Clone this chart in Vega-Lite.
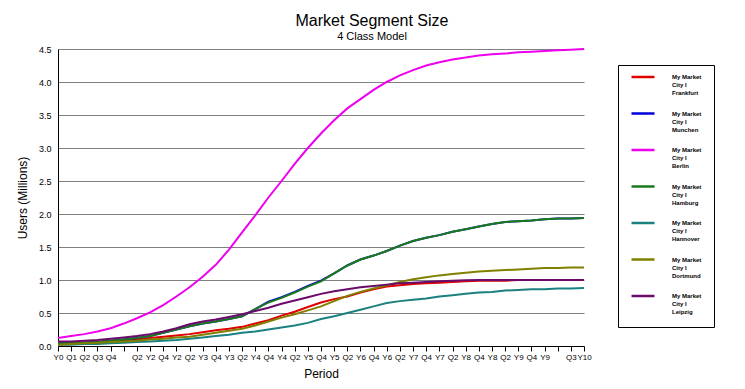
{
  "$schema": "https://vega.github.io/schema/vega-lite/v6.json",
  "width": 526,
  "height": 297,
  "autosize": {"type": "none"},
  "padding": {"left": 58, "top": 49, "right": 161, "bottom": 43},
  "background": "white",
  "title": {
    "text": "Market Segment Size",
    "subtitle": "4 Class Model",
    "anchor": "middle",
    "dx": 51,
    "font": "Liberation Sans",
    "fontSize": 16,
    "fontWeight": "normal",
    "color": "black",
    "subtitleFont": "Liberation Sans",
    "subtitleFontSize": 11,
    "subtitleColor": "black",
    "subtitlePadding": 2,
    "offset": 3
  },
  "config": {
    "view": {"stroke": null},
    "font": "Liberation Sans"
  },
  "data": {
    "values": [
      {"t":0,"Frankfurt":0.03,"Munchen":0.04,"Berlin":0.12,"Hamburg":0.04,"Hannover":0.02,"Dortmund":0.02,"Leipzig":0.07},
      {"t":1,"Frankfurt":0.04,"Munchen":0.05,"Berlin":0.15,"Hamburg":0.05,"Hannover":0.02,"Dortmund":0.03,"Leipzig":0.07},
      {"t":2,"Frankfurt":0.05,"Munchen":0.05,"Berlin":0.18,"Hamburg":0.05,"Hannover":0.03,"Dortmund":0.04,"Leipzig":0.08},
      {"t":3,"Frankfurt":0.06,"Munchen":0.06,"Berlin":0.22,"Hamburg":0.06,"Hannover":0.03,"Dortmund":0.05,"Leipzig":0.09},
      {"t":4,"Frankfurt":0.07,"Munchen":0.08,"Berlin":0.27,"Hamburg":0.08,"Hannover":0.04,"Dortmund":0.06,"Leipzig":0.11},
      {"t":5,"Frankfurt":0.08,"Munchen":0.10,"Berlin":0.34,"Hamburg":0.10,"Hannover":0.05,"Dortmund":0.07,"Leipzig":0.13},
      {"t":6,"Frankfurt":0.10,"Munchen":0.12,"Berlin":0.42,"Hamburg":0.12,"Hannover":0.06,"Dortmund":0.08,"Leipzig":0.15},
      {"t":7,"Frankfurt":0.12,"Munchen":0.15,"Berlin":0.51,"Hamburg":0.15,"Hannover":0.07,"Dortmund":0.10,"Leipzig":0.18},
      {"t":8,"Frankfurt":0.14,"Munchen":0.20,"Berlin":0.62,"Hamburg":0.20,"Hannover":0.08,"Dortmund":0.11,"Leipzig":0.22},
      {"t":9,"Frankfurt":0.16,"Munchen":0.25,"Berlin":0.75,"Hamburg":0.25,"Hannover":0.09,"Dortmund":0.13,"Leipzig":0.27},
      {"t":10,"Frankfurt":0.18,"Munchen":0.30,"Berlin":0.89,"Hamburg":0.30,"Hannover":0.11,"Dortmund":0.14,"Leipzig":0.33},
      {"t":11,"Frankfurt":0.21,"Munchen":0.34,"Berlin":1.05,"Hamburg":0.34,"Hannover":0.13,"Dortmund":0.17,"Leipzig":0.37},
      {"t":12,"Frankfurt":0.24,"Munchen":0.37,"Berlin":1.23,"Hamburg":0.37,"Hannover":0.15,"Dortmund":0.20,"Leipzig":0.40},
      {"t":13,"Frankfurt":0.26,"Munchen":0.41,"Berlin":1.46,"Hamburg":0.41,"Hannover":0.17,"Dortmund":0.23,"Leipzig":0.44},
      {"t":14,"Frankfurt":0.29,"Munchen":0.45,"Berlin":1.72,"Hamburg":0.45,"Hannover":0.20,"Dortmund":0.26,"Leipzig":0.48},
      {"t":15,"Frankfurt":0.34,"Munchen":0.56,"Berlin":1.98,"Hamburg":0.56,"Hannover":0.22,"Dortmund":0.31,"Leipzig":0.53},
      {"t":16,"Frankfurt":0.39,"Munchen":0.67,"Berlin":2.25,"Hamburg":0.66,"Hannover":0.25,"Dortmund":0.37,"Leipzig":0.58},
      {"t":17,"Frankfurt":0.46,"Munchen":0.74,"Berlin":2.50,"Hamburg":0.73,"Hannover":0.28,"Dortmund":0.43,"Leipzig":0.64},
      {"t":18,"Frankfurt":0.52,"Munchen":0.82,"Berlin":2.76,"Hamburg":0.81,"Hannover":0.31,"Dortmund":0.48,"Leipzig":0.69},
      {"t":19,"Frankfurt":0.59,"Munchen":0.91,"Berlin":3.00,"Hamburg":0.90,"Hannover":0.35,"Dortmund":0.54,"Leipzig":0.74},
      {"t":20,"Frankfurt":0.66,"Munchen":0.99,"Berlin":3.22,"Hamburg":0.98,"Hannover":0.41,"Dortmund":0.60,"Leipzig":0.79},
      {"t":21,"Frankfurt":0.71,"Munchen":1.10,"Berlin":3.42,"Hamburg":1.10,"Hannover":0.45,"Dortmund":0.68,"Leipzig":0.83},
      {"t":22,"Frankfurt":0.75,"Munchen":1.22,"Berlin":3.60,"Hamburg":1.22,"Hannover":0.50,"Dortmund":0.76,"Leipzig":0.86},
      {"t":23,"Frankfurt":0.81,"Munchen":1.31,"Berlin":3.74,"Hamburg":1.31,"Hannover":0.55,"Dortmund":0.82,"Leipzig":0.89},
      {"t":24,"Frankfurt":0.86,"Munchen":1.37,"Berlin":3.88,"Hamburg":1.37,"Hannover":0.60,"Dortmund":0.87,"Leipzig":0.91},
      {"t":25,"Frankfurt":0.90,"Munchen":1.44,"Berlin":4.00,"Hamburg":1.44,"Hannover":0.65,"Dortmund":0.92,"Leipzig":0.93},
      {"t":26,"Frankfurt":0.92,"Munchen":1.52,"Berlin":4.10,"Hamburg":1.52,"Hannover":0.68,"Dortmund":0.97,"Leipzig":0.95},
      {"t":27,"Frankfurt":0.94,"Munchen":1.59,"Berlin":4.18,"Hamburg":1.59,"Hannover":0.70,"Dortmund":1.01,"Leipzig":0.96},
      {"t":28,"Frankfurt":0.95,"Munchen":1.64,"Berlin":4.25,"Hamburg":1.64,"Hannover":0.72,"Dortmund":1.04,"Leipzig":0.97},
      {"t":29,"Frankfurt":0.96,"Munchen":1.68,"Berlin":4.30,"Hamburg":1.68,"Hannover":0.75,"Dortmund":1.07,"Leipzig":0.98},
      {"t":30,"Frankfurt":0.97,"Munchen":1.73,"Berlin":4.34,"Hamburg":1.73,"Hannover":0.77,"Dortmund":1.09,"Leipzig":0.99},
      {"t":31,"Frankfurt":0.98,"Munchen":1.77,"Berlin":4.37,"Hamburg":1.77,"Hannover":0.79,"Dortmund":1.11,"Leipzig":0.995},
      {"t":32,"Frankfurt":0.99,"Munchen":1.81,"Berlin":4.40,"Hamburg":1.81,"Hannover":0.81,"Dortmund":1.13,"Leipzig":1.0},
      {"t":33,"Frankfurt":0.99,"Munchen":1.85,"Berlin":4.42,"Hamburg":1.85,"Hannover":0.82,"Dortmund":1.14,"Leipzig":1.0},
      {"t":34,"Frankfurt":0.99,"Munchen":1.88,"Berlin":4.43,"Hamburg":1.88,"Hannover":0.84,"Dortmund":1.15,"Leipzig":1.0},
      {"t":35,"Frankfurt":1.0,"Munchen":1.89,"Berlin":4.45,"Hamburg":1.89,"Hannover":0.85,"Dortmund":1.16,"Leipzig":1.0},
      {"t":36,"Frankfurt":1.0,"Munchen":1.90,"Berlin":4.46,"Hamburg":1.90,"Hannover":0.86,"Dortmund":1.17,"Leipzig":1.0},
      {"t":37,"Frankfurt":1.0,"Munchen":1.92,"Berlin":4.47,"Hamburg":1.92,"Hannover":0.86,"Dortmund":1.18,"Leipzig":1.0},
      {"t":38,"Frankfurt":1.0,"Munchen":1.93,"Berlin":4.48,"Hamburg":1.93,"Hannover":0.87,"Dortmund":1.18,"Leipzig":1.0},
      {"t":39,"Frankfurt":1.0,"Munchen":1.93,"Berlin":4.49,"Hamburg":1.93,"Hannover":0.87,"Dortmund":1.19,"Leipzig":1.0},
      {"t":40,"Frankfurt":1.0,"Munchen":1.94,"Berlin":4.50,"Hamburg":1.94,"Hannover":0.88,"Dortmund":1.19,"Leipzig":1.0}
    ]
  },
  "transform": [
    {"fold": ["Frankfurt", "Munchen", "Berlin", "Hamburg", "Hannover", "Dortmund", "Leipzig"], "as": ["city", "users"]}
  ],
  "mark": {"type": "line", "strokeWidth": 2, "interpolate": "linear"},
  "encoding": {
    "x": {
      "field": "t",
      "type": "quantitative",
      "scale": {"domain": [0, 40], "nice": false, "zero": false},
      "axis": {
        "title": "Period",
        "titleFont": "Liberation Sans",
        "titleFontSize": 12,
        "titleFontWeight": "normal",
        "titleColor": "black",
        "titlePadding": 7,
        "values": [0,1,2,3,4,5,6,7,8,9,10,11,12,13,14,15,16,17,18,19,20,21,22,23,24,25,26,27,28,29,30,31,32,33,34,35,36,37,38,39,40],
        "labelExpr": "['Y0','Q1','Q2','Q3','Q4','','Q2','Y2','Q4','Y2','Q2','Y3','Q4','Y3','Q2','Y4','Q4','Y4','Q2','Y5','Q4','Y5','Q2','Y6','Q4','Y6','Q2','Y7','Q4','Y7','Q2','Y8','Q4','Y8','Q2','Y9','Q4','Y9','','Q3','Y10'][datum.value]",
        "labelOverlap": false,
        "labelFlush": false,
        "labelFont": "Liberation Sans",
        "labelFontSize": 8,
        "labelColor": "black",
        "labelPadding": 2,
        "tickColor": "black",
        "tickSize": 5,
        "domainColor": "black",
        "grid": false
      }
    },
    "y": {
      "field": "users",
      "type": "quantitative",
      "scale": {"domain": [0, 4.5], "nice": false},
      "axis": {
        "title": "Users (Millions)",
        "titleFont": "Liberation Sans",
        "titleFontSize": 12,
        "titleFontWeight": "normal",
        "titleColor": "black",
        "titlePadding": 9,
        "values": [0, 0.5, 1, 1.5, 2, 2.5, 3, 3.5, 4, 4.5],
        "format": ".1f",
        "labelFont": "Liberation Sans",
        "labelFontSize": 9,
        "labelColor": "black",
        "labelPadding": 7,
        "ticks": false,
        "domainColor": "black",
        "grid": true,
        "gridColor": "#808080",
        "gridWidth": 1
      }
    },
    "color": {
      "field": "city",
      "type": "nominal",
      "scale": {
        "domain": ["Frankfurt", "Munchen", "Berlin", "Hamburg", "Hannover", "Dortmund", "Leipzig"],
        "range": ["#e00000", "#0000dd", "#ee00ee", "#1a7a1a", "#1a8080", "#808000", "#6a0a6a"]
      },
      "legend": {
        "title": null,
        "orient": "none",
        "legendX": 560,
        "legendY": 16,
        "direction": "vertical",
        "padding": 12,
        "strokeColor": "black",
        "fillColor": "white",
        "symbolType": "M-1,0H1",
        "symbolSize": 529,
        "symbolStrokeWidth": 2.5,
        "labelExpr": "['My Market', 'City I', datum.label]",
        "labelFont": "Liberation Sans",
        "labelFontSize": 6,
        "labelFontWeight": "bold",
        "labelColor": "black",
        "labelLineHeight": 8.5,
        "labelBaseline": "top",
        "labelOffset": 16,
        "labelLimit": 0,
        "rowPadding": 12.5,
        "encode": {
          "symbols": {"update": {"y": {"value": 0}}},
          "labels": {"update": {"y": {"value": 0}, "dy": {"value": -3}}}
        }
      }
    }
  }
}
